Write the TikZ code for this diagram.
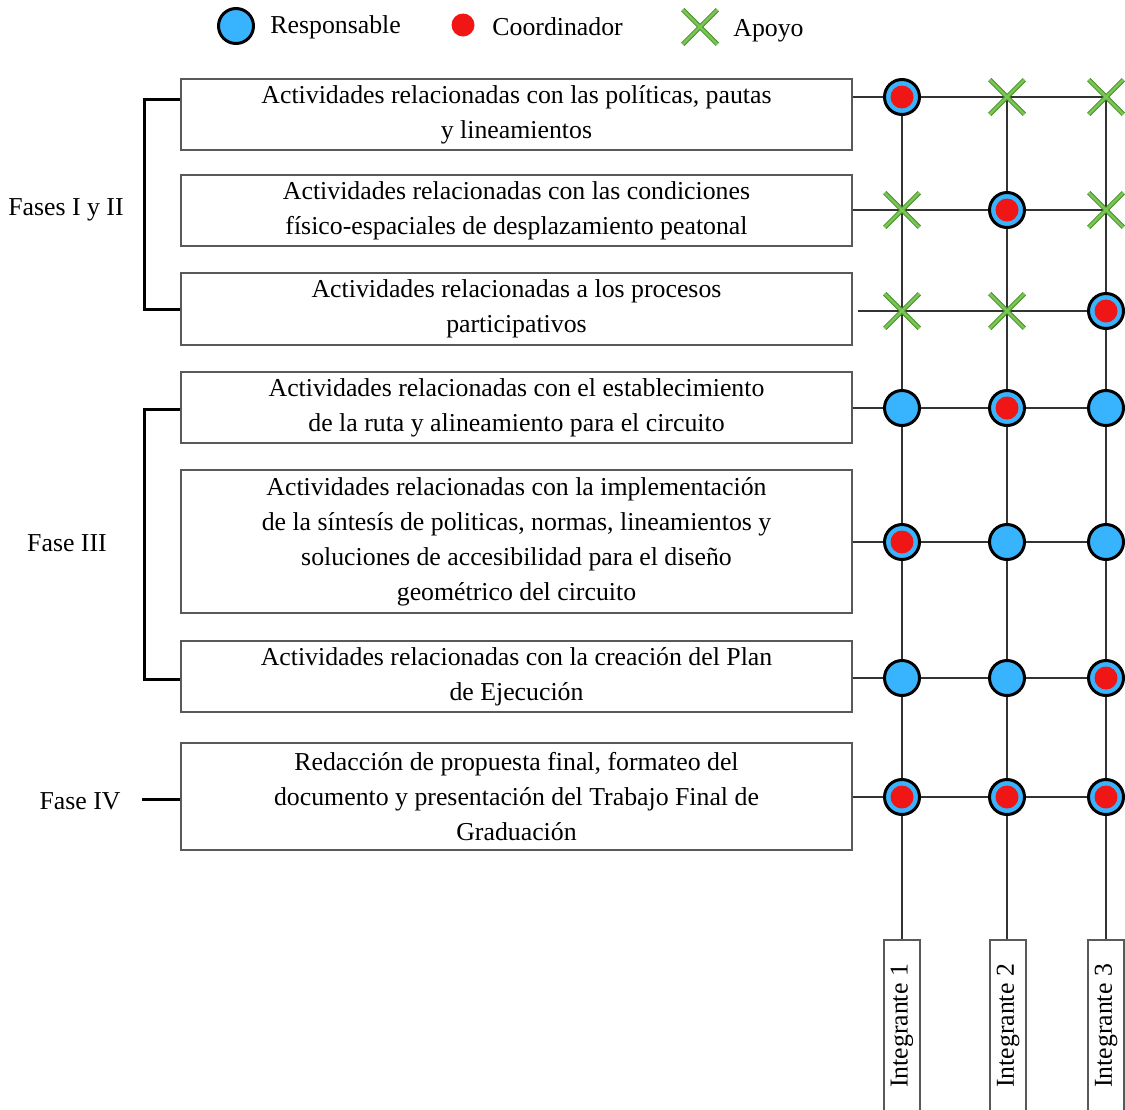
\documentclass[tikz,border=0pt]{standalone}
\usepackage{fontspec}
\setmainfont{Liberation Serif}
\usetikzlibrary{shapes.misc}
\definecolor{respblue}{RGB}{56,180,255}
\definecolor{coordred}{RGB}{240,22,22}
\definecolor{apoyogreen}{RGB}{122,198,84}
\definecolor{apoyodark}{RGB}{70,140,40}

\begin{document}
\begin{tikzpicture}[x=0.5pt,y=-0.5pt,
  every node/.style={font=\fontsize{12.9}{17.5}\selectfont},
  act/.style={draw=black!65, line width=0.75pt, minimum width=335.5pt, align=center, inner sep=0pt},
  intg/.style={draw=black!65, line width=0.75pt, rotate=90, minimum width=86pt, minimum height=18pt, inner sep=0pt},
  grid/.style={draw=black!80, line width=1pt},
  bracket/.style={draw=black, line width=1.5pt},
  resp/.style={circle, draw=black, line width=1.5pt, fill=respblue, minimum size=17.5pt, inner sep=0pt},
  coord/.style={circle, fill=coordred, minimum size=11.5pt, inner sep=0pt},
  apoyo/.style={cross out, draw=apoyodark, line width=2.3pt, minimum size=15pt, inner sep=0pt,
    postaction={draw=apoyogreen, line width=1.3pt}}]
\useasboundingbox (0,0) rectangle (1125,1109);

% leyenda
\node[resp] (lr) at (236,26) {};
\node[anchor=west, inner sep=0pt] (lrt) at (270,27) {Responsable};
\node[coord] (lc) at (463,25) {};
\node[anchor=west, inner sep=0pt] (lct) at (492,27) {Coordinador};
\node[apoyo] (la) at (700,27) {};
\node[anchor=west, inner sep=0pt] (lat) at (733,31) {Apoyo};

% actividades
\node[act, minimum height=35.5pt] (a1) at (516.5,114.5) {Actividades relacionadas con las políticas, pautas\\y lineamientos};
\node[act, minimum height=35.5pt] (a2) at (516.5,210.5) {Actividades relacionadas con las condiciones\\físico-espaciales de desplazamiento peatonal};
\node[act, minimum height=36pt] (a3) at (516.5,309) {Actividades relacionadas a los procesos\\participativos};
\node[act, minimum height=35.5pt] (a4) at (516.5,407.5) {Actividades relacionadas con el establecimiento\\de la ruta y alineamiento para el circuito};
\node[act, minimum height=71.5pt] (a5) at (516.5,541.5) {Actividades relacionadas con la implementación\\de la síntesís de politicas, normas, lineamientos y\\soluciones de accesibilidad para el diseño\\geométrico del circuito};
\node[act, minimum height=35.5pt] (a6) at (516.5,676.5) {Actividades relacionadas con la creación del Plan\\de Ejecución};
\node[act, minimum height=53.5pt] (a7) at (516.5,796.5) {Redacción de propuesta final, formateo del\\documento y presentación del Trabajo Final de\\Graduación};

% integrantes
\node[intg] (i1) at (902,1026) {Integrante 1};
\node[intg] (i2) at (1008,1026) {Integrante 2};
\node[intg] (i3) at (1106,1026) {Integrante 3};

% cuadricula
\foreach \c/\x in {1/902,2/1007,3/1106}
  \foreach \r/\y in {1/97,2/210,3/311,4/408,5/542,6/678,7/797}
    \coordinate (g\r\c) at (\x,\y);
\foreach \r in {1,2,4,5,6,7}
  \draw[grid] (a\r.east |- g\r1) -- (g\r3);
\draw[grid] ([xshift=2.5pt]a3.east |- g31) -- (g33);
\foreach \c in {1,2,3}
  \draw[grid] (g1\c) -- (g1\c |- i\c.east);

% roles
\foreach \p in {11,22,33,41,42,43,51,52,53,61,62,63,71,72,73}
  \node[resp] (m\p) at (g\p) {};
\foreach \p in {11,22,33,42,51,63,71,72,73}
  \node[coord] (c\p) at (g\p) {};
\foreach \p in {12,13,21,23,31,32}
  \node[apoyo] (x\p) at (g\p) {};

% fases
\draw[bracket] (a1.west |- 0,99) -- ++(-36,0) |- (a3.west |- 0,309);
\draw[bracket] (a4.west |- 0,409) -- ++(-36,0) |- (a6.west |- 0,679);
\draw[bracket] (a7.west |- 0,799) -- ++(-38,0);
\node (f12) at (66,210) {Fases I y II};
\node (f3) at (67,543) {Fase III};
\node (f4) at (80,801) {Fase IV};
\end{tikzpicture}
\end{document}
